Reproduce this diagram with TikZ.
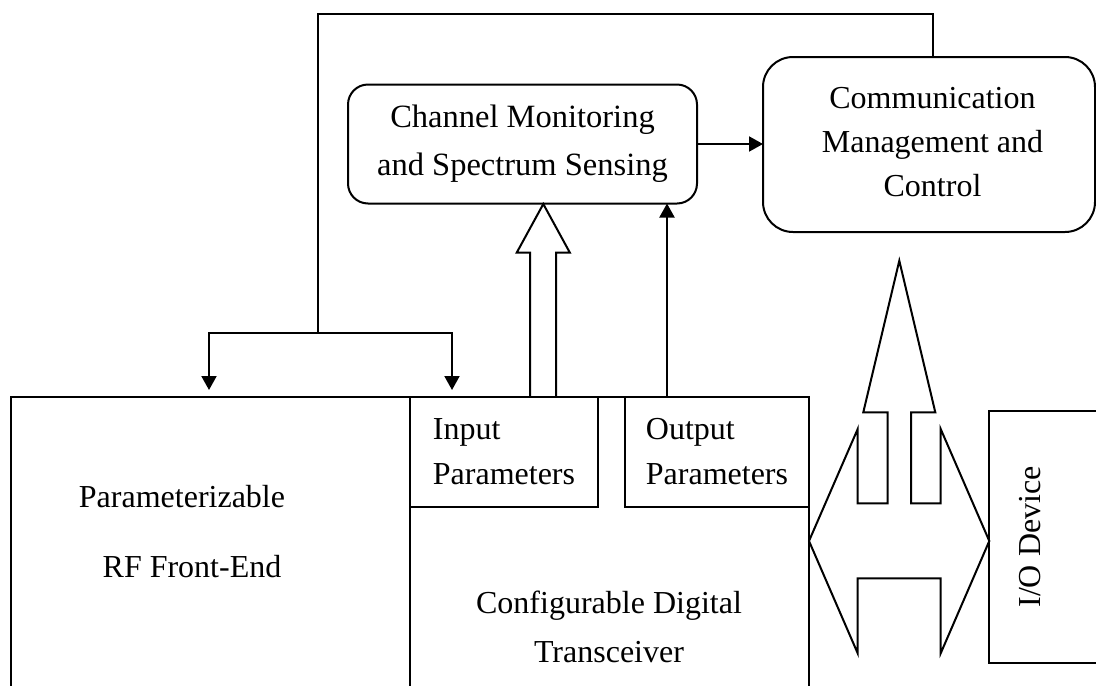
\documentclass[tikz,border=0pt]{standalone}
\usepackage{fontspec}
\setmainfont{Liberation Serif}
\usetikzlibrary{arrows.meta,calc}
\begin{document}
\begin{tikzpicture}[x=1pt,y=-1pt,
  line width=2pt, line join=miter,
  txt/.style={font=\fontsize{32}{44}\selectfont, inner sep=0pt},
  blk/.style={draw, inner sep=0pt, outer sep=0pt, anchor=north west},
  parbox/.style={blk, align=left, font=\fontsize{32}{45}\selectfont},
  rbox/.style={draw, inner sep=0pt, outer sep=0pt, rounded corners=#1, align=center},
  arr/.style={-{Triangle[length=14pt,width=15pt]}},
]
\useasboundingbox (0,0) rectangle (1096,686);
\clip (0,0) rectangle (1096,686);

% lower row of blocks (they run past the bottom edge)
\node[blk, minimum width=399pt, minimum height=320pt] (rf) at (11,397) {};
\node[blk, minimum width=399pt, minimum height=320pt] (tr) at (410,397) {};
\node[parbox, minimum width=188pt, minimum height=110pt] (inp) at (410,397) {Input\\Parameters};
\node[parbox, minimum width=184pt, minimum height=110pt] (outp) at (625,397) {Output\\Parameters};
\node[blk, minimum width=120pt, minimum height=252pt] (io) at (989,411) {};

\node[txt] (rf1) at (182,497) {Parameterizable};
\node[txt] (rf2) at (192,567) {RF Front-End};
\node[txt, align=center, font=\fontsize{32}{49}\selectfont] (cdt) at (609,627) {Configurable Digital\\Transceiver};
\node[txt, rotate=90] (iot) at (1030,537) {I/O Device};

% upper blocks
\node[rbox=20pt, minimum width=349pt, minimum height=119pt,
      font=\fontsize{32.5}{48}\selectfont] (cm) at (522.5,144)
      {Channel Monitoring\\and Spectrum Sensing};
\node[rbox=30pt, minimum width=332pt, minimum height=175pt] (ctl) at (929,144.5) {};
\node[txt, align=center, font=\fontsize{32}{44}\selectfont] (ctltxt) at (932.5,142)
      {Communication\\Management and\\Control};

% control feedback to the front-end and the input parameters
\coordinate (split) at (318,333);
\draw ([xshift=4pt]ctl.north) -- ([xshift=4pt]ctl.north |- 0,14) -| (split);
\draw[arr, shorten >=7pt] (split) -| ([xshift=198pt]rf.north west);
\draw[arr, shorten >=7pt] (split) -| ([xshift=42pt]tr.north west);

% data paths
\draw[arr] (cm.east) -- (cm.east -| ctl.west);
\draw[arr] ([xshift=-50pt]outp.north) -- ([xshift=-50pt]outp.north |- cm.south);

% hollow arrow: input parameters -> channel monitoring
\draw (530,397) -- (530,252.7) -- (516.7,252.7) -- (543.3,204)
      -- (569.9,252.7) -- (556,252.7) -- (556,397);

% three-way hollow arrow between transceiver, control and I/O device
\draw (809,541) -- (857.7,429) -- (857.7,503.3) -- (887.7,503.3)
      -- (887.7,412.3) -- (863.3,412.3) -- (899.3,260.7) -- (935.3,412.3)
      -- (911,412.3) -- (911,503.3) -- (940.7,503.3) -- (940.7,429)
      -- (989.3,541) -- (940.7,653.3) -- (940.7,578.3) -- (857.7,578.3)
      -- (857.7,653.3) -- cycle;
\end{tikzpicture}
\end{document}
